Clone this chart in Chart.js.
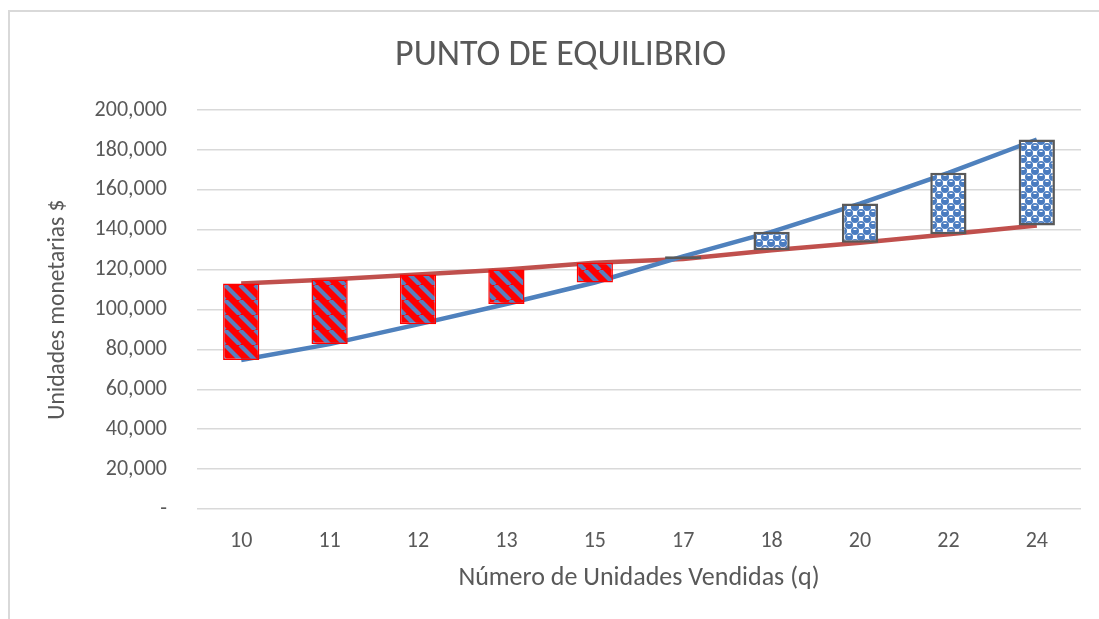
<!DOCTYPE html>
<html>
<head>
<meta charset="utf-8">
<script src="https://cdn.jsdelivr.net/npm/chart.js@4"></script>
<style>
  html, body { margin: 0; padding: 0; background: #ffffff; }
  #wrap { width: 1099px; height: 619px; position: relative; }
</style>
</head>
<body>
<div id="wrap"><canvas id="chart" width="1099" height="619"></canvas></div>
<script>
// Units sold (q)
const categories = ['10', '11', '12', '13', '15', '17', '18', '20', '22', '24'];
// Total revenue per quantity
const ingresos = [74700, 82700, 92600, 102800, 113600, 126700, 139000, 153200, 168600, 185300];
// Total cost per quantity
const costos = [113100, 115100, 117600, 120100, 123500, 125400, 129800, 133500, 137800, 142200];
// Value axis ticks
const yTicks = [0, 20000, 40000, 60000, 80000, 100000, 120000, 140000, 160000, 180000, 200000];

const FONT = 'Carlito, Calibri, Lato, sans-serif';
const GREY_TEXT = '#595959';

// Red fill crossed by blue diagonal stripes (loss bars)
function stripePattern() {
  const s = 15;
  const c = document.createElement('canvas');
  c.width = s; c.height = s;
  const g = c.getContext('2d');
  g.fillStyle = '#ff0000';
  g.fillRect(0, 0, s, s);
  g.strokeStyle = '#5a7fbf';
  g.lineWidth = 4.2;
  for (let k = -1; k <= 1; k++) {
    g.beginPath();
    g.moveTo(k * s, 0);
    g.lineTo(k * s + s, s);
    g.stroke();
  }
  return g.createPattern(c, 'repeat');
}

// Blue spheres on white (profit bars)
function spherePattern() {
  const s = 12;
  const c = document.createElement('canvas');
  c.width = s; c.height = s;
  const g = c.getContext('2d');
  g.fillStyle = '#ffffff';
  g.fillRect(0, 0, s, s);
  const centres = [[3, 3], [9, 9], [-3, 9], [9, -3], [15, 3], [3, 15]];
  g.fillStyle = '#4a7cc0';
  centres.forEach(([x, y]) => {
    g.beginPath();
    g.arc(x, y, 4.0, 0, Math.PI * 2);
    g.fill();
  });
  g.fillStyle = '#ffffff';
  centres.forEach(([x, y]) => {
    g.fillRect(x - 1.5, y - 2.2, 3, 1.2);
  });
  return g.createPattern(c, 'repeat');
}

const stripes = stripePattern();
const spheres = spherePattern();

const ranges = categories.map((_, i) => [costos[i], ingresos[i]]);
const profit = categories.map((_, i) => ingresos[i] >= costos[i]);

// Outer frame of the chart area
const framePlugin = {
  id: 'frame',
  beforeDraw(chart) {
    const ctx = chart.ctx;
    ctx.save();
    ctx.fillStyle = '#ffffff';
    ctx.fillRect(0, 0, chart.width, chart.height);
    ctx.strokeStyle = '#d9d9d9';
    ctx.lineWidth = 2;
    ctx.strokeRect(9, 11, chart.width + 20, chart.height + 20);
    ctx.restore();
  }
};

new Chart(document.getElementById('chart'), {
  type: 'bar',
  data: {
    labels: categories,
    datasets: [
      {
        type: 'bar',
        label: 'Utilidad / Pérdida',
        data: ranges,
        backgroundColor: profit.map(p => p ? spheres : stripes),
        borderColor: profit.map(p => p ? '#595959' : '#ff0000'),
        borderWidth: profit.map(p => p ? 2.5 : 1.5),
        borderSkipped: false,
        barPercentage: 0.41,
        categoryPercentage: 1,
        order: 0
      },
      {
        type: 'line',
        label: 'Ingresos',
        data: ingresos,
        borderColor: '#4f81bd',
        borderWidth: 4.5,
        pointRadius: 0,
        tension: 0,
        fill: false,
        order: 1
      },
      {
        type: 'line',
        label: 'Costos',
        data: costos,
        borderColor: '#c0504d',
        borderWidth: 4.5,
        pointRadius: 0,
        tension: 0,
        fill: false,
        order: 2
      }
    ]
  },
  options: {
    responsive: false,
    animation: false,
    devicePixelRatio: 1,
    layout: { padding: { left: 40, right: 18, top: 14, bottom: 0 } },
    plugins: {
      legend: { display: false },
      tooltip: { enabled: false },
      title: {
        display: true,
        text: 'PUNTO DE EQUILIBRIO',
        color: GREY_TEXT,
        font: { family: FONT, size: 36, weight: 'normal' },
        padding: { top: 20, bottom: 33 }
      }
    },
    scales: {
      x: {
        offset: true,
        grid: { display: false, drawTicks: false },
        border: { display: false },
        ticks: {
          color: GREY_TEXT,
          font: { family: FONT, size: 22 },
          padding: 19,
          maxRotation: 0
        },
        title: {
          display: true,
          text: 'Número de Unidades Vendidas (q)',
          color: GREY_TEXT,
          font: { family: FONT, size: 26 },
          padding: { top: 0, bottom: 25 }
        },
        afterFit(scale) { scale.height = 110; }
      },
      y: {
        min: 0,
        max: 200000,
        afterBuildTicks(scale) { scale.ticks = yTicks.map(v => ({ value: v })); },
        grid: { color: '#d9d9d9', lineWidth: 1.5, drawTicks: false },
        border: { display: false },
        ticks: {
          color: GREY_TEXT,
          font: { family: FONT, size: 22 },
          padding: 30,
          callback: v => v === 0 ? '-' : v.toLocaleString('en-US')
        },
        title: {
          display: true,
          text: 'Unidades monetarias $',
          color: GREY_TEXT,
          font: { family: FONT, size: 23.5 },
          padding: { top: 4, bottom: 0 }
        },
        afterFit(scale) { scale.width = 157; }
      }
    }
  },
  plugins: [framePlugin]
});
</script>
</body>
</html>
